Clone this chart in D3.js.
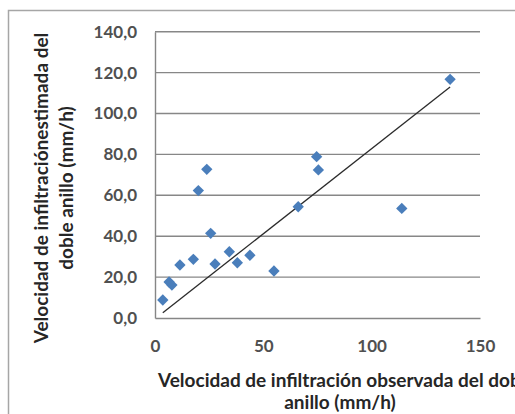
<!DOCTYPE html>
<html>
<head>
<meta charset="utf-8">
<script src="https://cdn.jsdelivr.net/npm/d3@7/dist/d3.min.js"></script>
<style>
  html, body { margin: 0; padding: 0; background: #ffffff; }
  svg { display: block; }
  text { font-family: Lato, "Liberation Sans", sans-serif; }
</style>
</head>
<body>
<svg id="chart" width="515" height="414"></svg>
<script>
// Observed (x) and estimated (y) double-ring infiltration rates, mm/h
const observed  = [3.6, 6.5, 7.8, 11.5, 17.7, 20.0, 23.9, 25.7, 27.7, 34.3, 38.0, 43.8, 54.9, 66.1, 74.6, 75.4, 113.9, 136.2];
const estimated = [8.8, 17.6, 16.1, 25.9, 28.7, 62.3, 72.7, 41.4, 26.4, 32.4, 27.0, 30.7, 23.0, 54.4, 78.9, 72.4, 53.6, 116.7];

// Linear trend line coefficients
const trendSlope = 0.832;
const trendIntercept = -0.4;

// Axis ticks
const xTicks = [0, 50, 100, 150];
const yTicks = [0, 20, 40, 60, 80, 100, 120, 140];

const xTitleLines = ["Velocidad de infiltración observada del doble", "anillo (mm/h)"];
const yTitleLines = ["Velocidad de infiltraciónestimada del", "doble anillo (mm/h)"];

const svg = d3.select("#chart");

// chart frame
svg.append("rect")
  .attr("x", 8.5).attr("y", 10.5)
  .attr("width", 540).attr("height", 440)
  .attr("fill", "#ffffff")
  .attr("stroke", "#a6a6a6")
  .attr("stroke-width", 1.5);

const plot = { left: 155, right: 480, top: 31.7, bottom: 318 };

const x = d3.scaleLinear().domain([0, 150]).range([plot.left, plot.right]);
const y = d3.scaleLinear().domain([0, 140]).range([plot.bottom, plot.top]);

// horizontal gridlines
svg.append("g")
  .selectAll("line")
  .data(yTicks.filter(t => t > 0))
  .join("line")
  .attr("x1", plot.left).attr("x2", plot.right)
  .attr("y1", d => y(d)).attr("y2", d => y(d))
  .attr("stroke", "#878787")
  .attr("stroke-width", 1.4);

// y axis
const yAxis = svg.append("g")
  .attr("transform", `translate(${plot.left},0)`)
  .call(d3.axisLeft(y).tickValues(yTicks).tickSize(0).tickPadding(18)
    .tickFormat(d => d3.format(".1f")(d).replace(".", ",")));
yAxis.select(".domain").attr("stroke", "#868686").attr("stroke-width", 1.4);
yAxis.selectAll("text")
  .attr("font-size", 17).attr("font-weight", "bold").attr("fill", "#505050");

// x axis
const xAxis = svg.append("g")
  .attr("transform", `translate(0,${plot.bottom})`)
  .call(d3.axisBottom(x).tickValues(xTicks).tickSize(0).tickPadding(22)
    .tickFormat(d3.format("d")));
xAxis.select(".domain").attr("stroke", "#868686").attr("stroke-width", 1.4);
xAxis.selectAll("text")
  .attr("font-size", 17).attr("font-weight", "bold").attr("fill", "#505050");

// trend line
const xMin = d3.min(observed), xMax = d3.max(observed);
svg.append("line")
  .attr("x1", x(xMin)).attr("y1", y(trendSlope * xMin + trendIntercept))
  .attr("x2", x(xMax)).attr("y2", y(trendSlope * xMax + trendIntercept))
  .attr("stroke", "#2b2b2b")
  .attr("stroke-width", 1.3);

// diamond markers
const diamond = d3.symbol().type(d3.symbolDiamond2).size(82);
svg.append("g")
  .selectAll("path")
  .data(observed.map((v, i) => [v, estimated[i]]))
  .join("path")
  .attr("d", diamond)
  .attr("transform", d => `translate(${x(d[0])},${y(d[1])})`)
  .attr("fill", "#4a7ebb");

// x axis title
svg.append("text")
  .attr("x", 158).attr("y", 387)
  .attr("font-size", 19).attr("font-weight", "bold").attr("fill", "#262626")
  .text(xTitleLines[0]);
svg.append("text")
  .attr("x", 340).attr("y", 409)
  .attr("text-anchor", "middle")
  .attr("font-size", 19).attr("font-weight", "bold").attr("fill", "#262626")
  .text(xTitleLines[1]);

// y axis title
const yTitle = svg.append("text")
  .attr("transform", "translate(0,188) rotate(-90)")
  .attr("text-anchor", "middle")
  .attr("font-size", 19).attr("font-weight", "bold").attr("fill", "#262626");
yTitle.append("tspan").attr("x", 0).attr("y", 48).text(yTitleLines[0]);
yTitle.append("tspan").attr("x", 0).attr("y", 73).text(yTitleLines[1]);
</script>
</body>
</html>
